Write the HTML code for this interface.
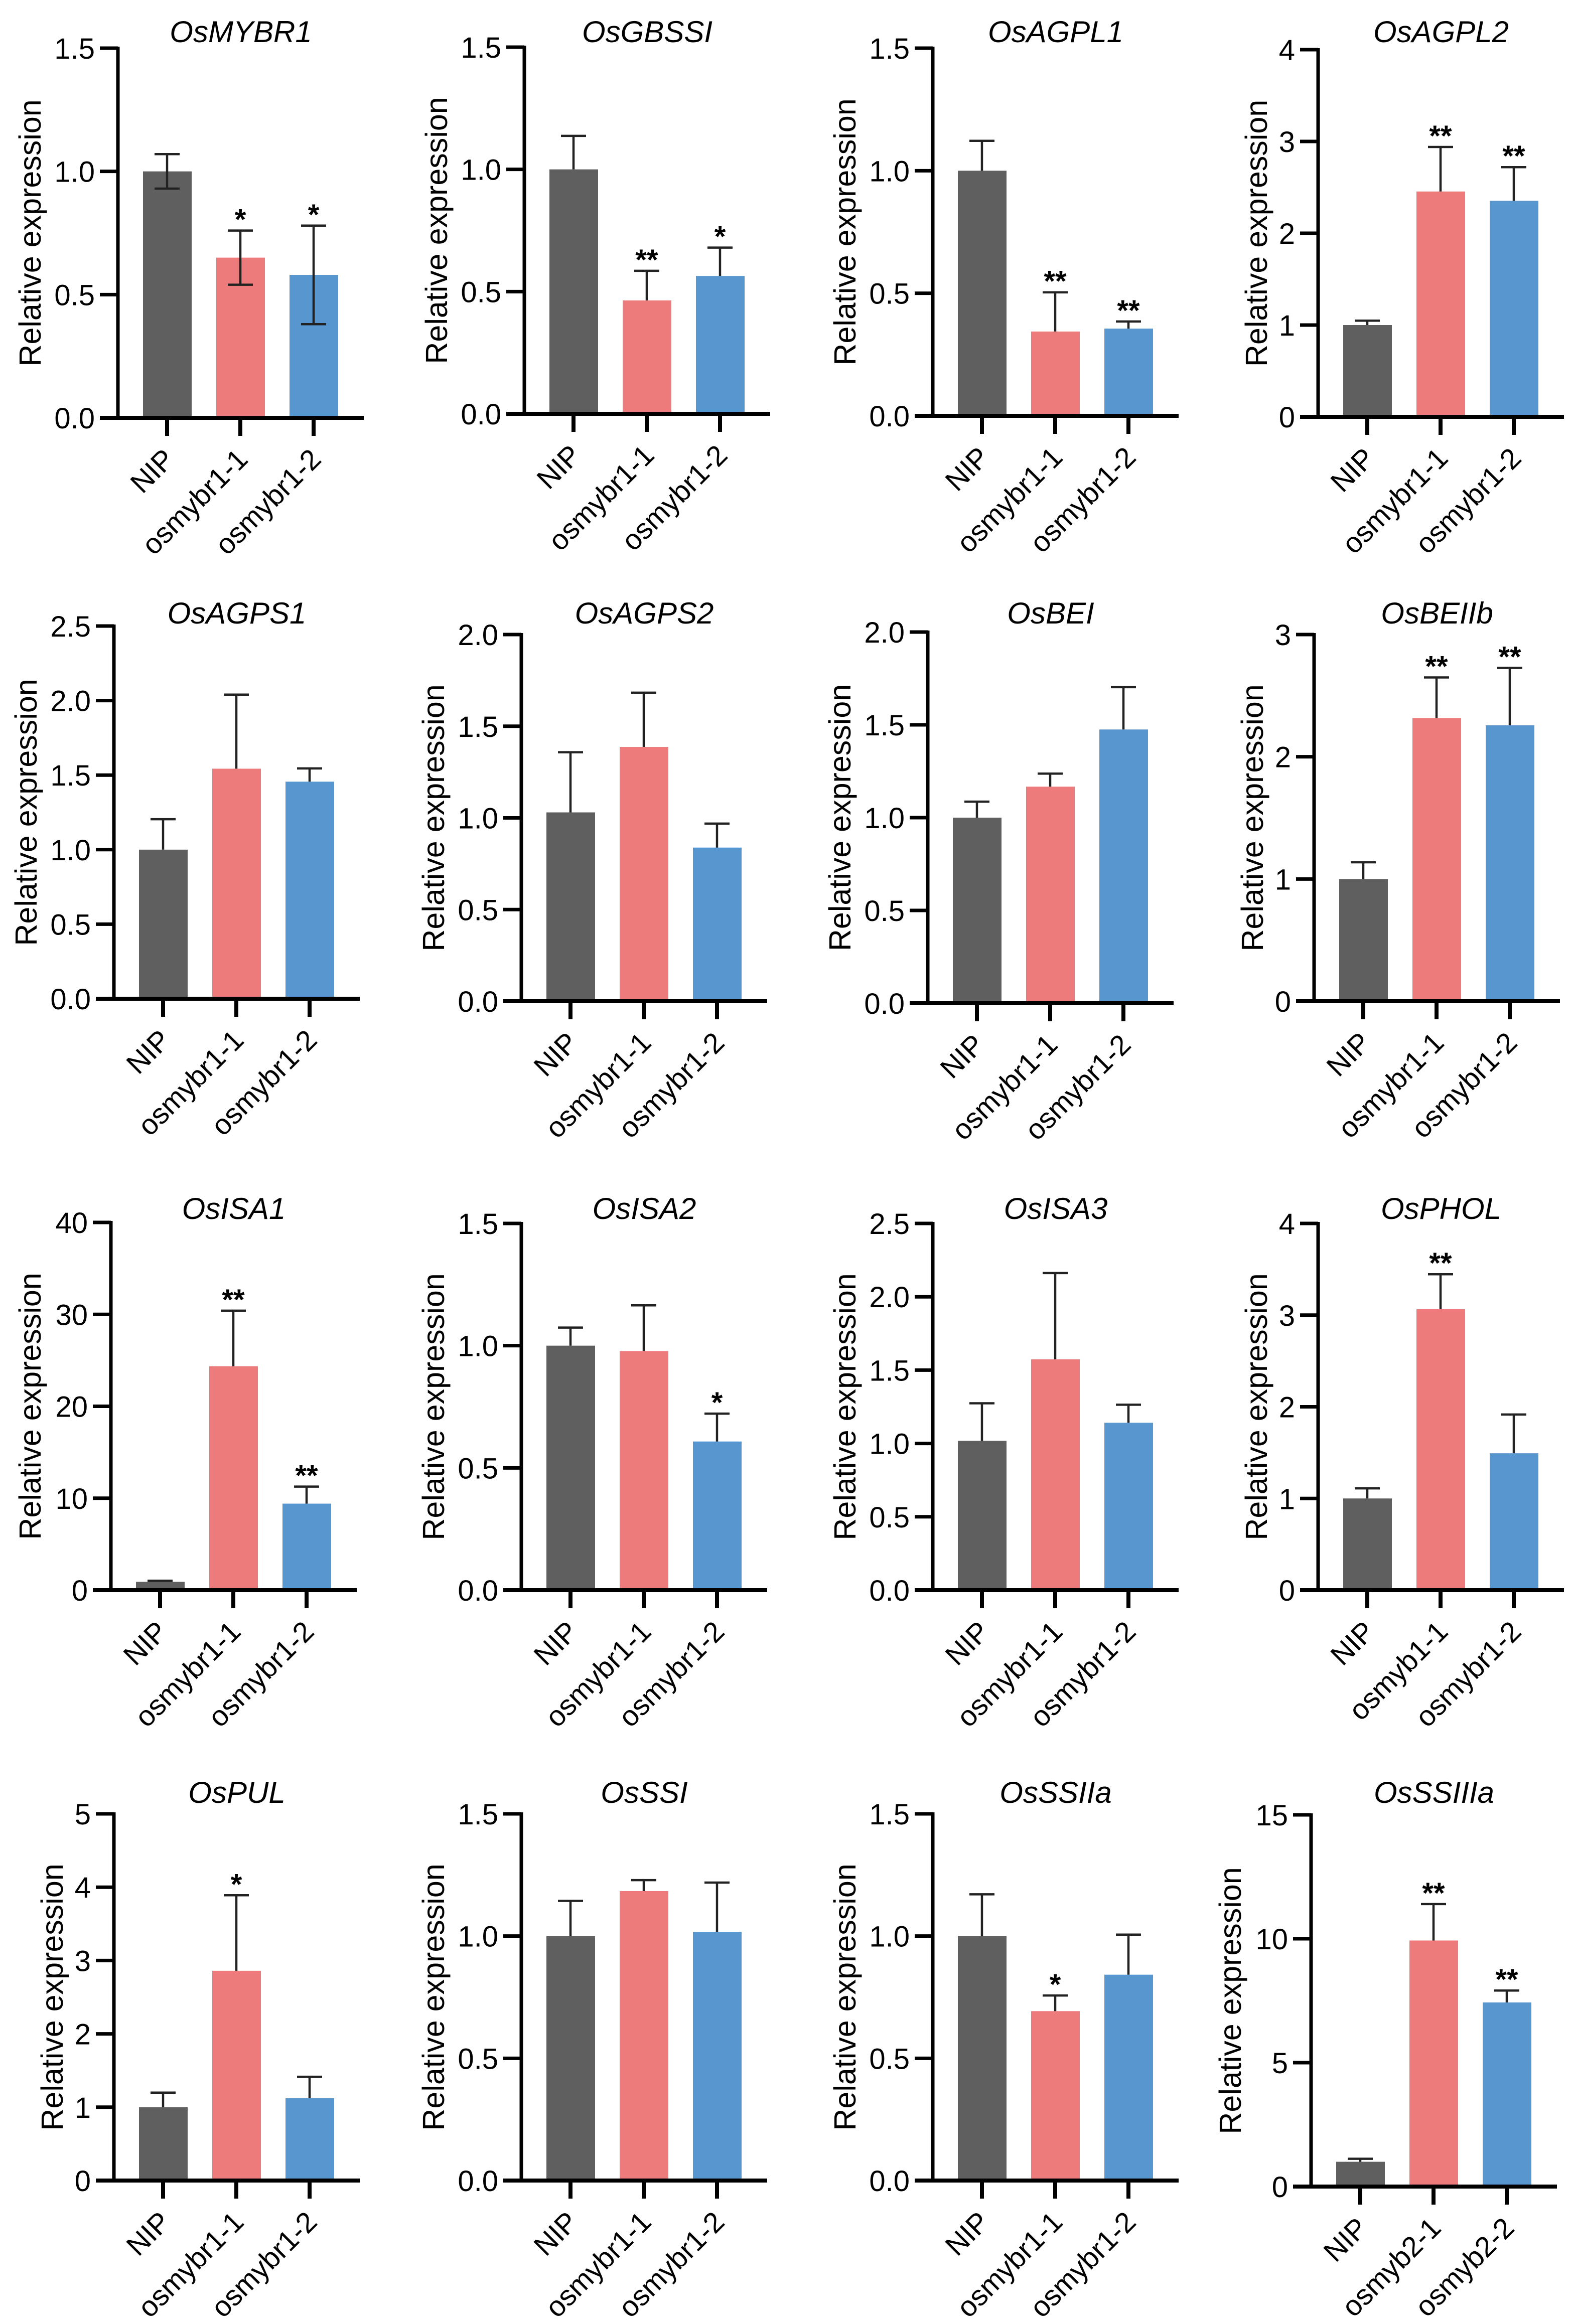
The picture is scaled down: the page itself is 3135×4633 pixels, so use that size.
<!DOCTYPE html>
<html><head><meta charset="utf-8">
<style>
html,body{margin:0;padding:0;background:#fff;}
svg{display:block;}
text{font-family:"Liberation Sans",Arial,sans-serif;fill:#000;}
</style></head>
<body>
<svg id="fig" width="3135" height="4633" viewBox="0 0 3135 4633" xmlns="http://www.w3.org/2000/svg"></svg>
<script>
// ---- data ----
const genes = ["OsMYBR1","OsGBSSI","OsAGPL1","OsAGPL2","OsAGPS1","OsAGPS2","OsBEI","OsBEIIb","OsISA1","OsISA2","OsISA3","OsPHOL","OsPUL","OsSSI","OsSSIIa","OsSSIIIa"];
const categoriesDefault = ["NIP","osmybr1-1","osmybr1-2"];
const categoriesPHOL = ["NIP","osmyb1-1","osmybr1-2"];
const categoriesSSIIIa = ["NIP","osmyb2-1","osmyb2-2"];
const meanValues = [
  [1.0,0.65,0.58],[1.0,0.464,0.564],[1.0,0.344,0.356],[1.0,2.455,2.354],
  [1.0,1.543,1.456],[1.03,1.387,0.838],[1.0,1.167,1.475],[1.0,2.317,2.258],
  [0.9,24.36,9.41],[1.0,0.978,0.608],[1.018,1.574,1.141],[1.0,3.065,1.493],
  [1.0,2.86,1.122],[1.0,1.184,1.017],[1.0,0.693,0.842],[1.0,9.93,7.43]
];
const errorValues = [
  [0.07,0.11,0.20],[0.137,0.121,0.116],[0.122,0.16,0.029],[0.048,0.485,0.366],
  [0.204,0.497,0.089],[0.328,0.296,0.131],[0.086,0.07,0.228],[0.137,0.332,0.469],
  [0.12,6.04,1.85],[0.074,0.187,0.114],[0.256,0.588,0.123],[0.11,0.381,0.423],
  [0.199,1.03,0.293],[0.144,0.045,0.202],[0.171,0.064,0.164],[0.12,1.47,0.48]
];
const significance = [
  ["","*","*"],["","**","*"],["","**","**"],["","**","**"],
  ["","",""],["","",""],["","",""],["","**","**"],
  ["","**","**"],["","","*"],["","",""],["","**",""],
  ["","*",""],["","",""],["","*",""],["","**","**"]
];
const yMax = [1.5,1.5,1.5,4, 2.5,2,2,3, 40,1.5,2.5,4, 5,1.5,1.5,15];
const tickStep = [0.5,0.5,0.5,1, 0.5,0.5,0.5,1, 10,0.5,0.5,1, 1,0.5,0.5,5];
const tickDecimals = [1,1,1,0, 1,1,1,0, 0,1,1,0, 0,1,1,0];
const lowerCaps = [true,false,false,false, false,false,false,false, false,false,false,false, false,false,false,false];

// ---- layout ----
const axisXs = [[235,1045,1859,2627],[227,1039,1849,2619],[221,1039,1859,2627],[227,1039,1859,2613]];
const topYs = [[96,94,96,99],[1248,1265,1260,1265],[2437,2439,2439,2439],[3616,3616,3616,3618]];
const zeroYs = [[833,825,829,831],[1991,1996,2000,1996],[3170,3170,3170,3170],[4347,4347,4347,4359]];
const titleYs = [84,1243,2430,3594];
const colors = ["#5f5f5f","#ee7b7b","#5896cf"];
const NS = "http://www.w3.org/2000/svg";
const svg = document.getElementById("fig");

function mk(tag, attrs, parent){
  const e = document.createElementNS(NS, tag);
  for (const k in attrs) e.setAttribute(k, attrs[k]);
  parent.appendChild(e);
  return e;
}

genes.forEach((gene, i) => {
  const r = Math.floor(i/4), c = i%4;
  const ax = axisXs[r][c], top = topYs[r][c], zero = zeroYs[r][c];
  const yScale = v => zero - (v / yMax[i]) * (zero - top);
  const xCenter = k => ax + 98 + k*146;
  const cats = gene==="OsPHOL" ? categoriesPHOL : (gene==="OsSSIIIa" ? categoriesSSIIIa : categoriesDefault);

  const g = mk("g", {}, svg);
  
  

  const t = mk("text", {x: ax+245, y: titleYs[r], "text-anchor":"middle", "font-size":60, "font-style":"italic"}, g);
  t.textContent = gene;
  
  

  meanValues[i].forEach((v, k) => {
    const cx = xCenter(k), y = yScale(v);
    const b = mk("rect", {x: cx-48, y: y, width: 97, height: zero-y, fill: colors[k]}, g);
    
    
  });

  meanValues[i].forEach((v, k) => {
    const cx = xCenter(k), e = errorValues[i][k];
    const yt = yScale(v+e);
    const yb = lowerCaps[i] ? yScale(v-e) : yScale(v);
    const eg = mk("g", {stroke:"#222", "stroke-width":4.5, fill:"none"}, g);
    
    
    mk("line", {x1:cx, y1:yt, x2:cx, y2:yb}, eg);
    mk("line", {x1:cx-25, y1:yt, x2:cx+25, y2:yt}, eg);
    if (lowerCaps[i]) mk("line", {x1:cx-25, y1:yb, x2:cx+25, y2:yb}, eg);
    const s = significance[i][k];
    if (s) {
      const st = mk("text", {x:cx, y:yt-2, "text-anchor":"middle", "font-size":58, "font-weight":"bold"}, g);
      st.textContent = s;
      
      
    }
  });

  const ya = mk("line", {x1:ax, y1:top-3, x2:ax, y2:zero+4, stroke:"#000", "stroke-width":7}, g);
  
  
  const nT = Math.round(yMax[i]/tickStep[i]);
  let maxLen = 0;
  for (let j=0;j<=nT;j++){
    const v = j*tickStep[i], y = yScale(v);
    mk("line", {x1:ax-36, y1:y, x2:ax, y2:y, stroke:"#000", "stroke-width":7}, g);
    const lbl = v.toFixed(tickDecimals[i]);
    maxLen = Math.max(maxLen, lbl.length);
    const tl = mk("text", {x: ax-46, y: y+21, "text-anchor":"end", "font-size":58}, g);
    tl.textContent = lbl;
    
    
  }
  const off = maxLen>=3 ? 172 : (maxLen===2 ? 158 : 120);
  const cy = (top+zero)/2;
  const yt = mk("text", {transform:`translate(${ax-off+18},${cy}) rotate(-90)`, "text-anchor":"middle", "font-size":61}, g);
  yt.textContent = "Relative expression";
  
  

  const xa = mk("line", {x1:ax-36, y1:zero, x2:ax+490, y2:zero, stroke:"#000", "stroke-width":8}, g);
  
  
  cats.forEach((name, k) => {
    const cx = xCenter(k);
    mk("line", {x1:cx, y1:zero, x2:cx, y2:zero+36, stroke:"#000", "stroke-width":8}, g);
    const xl = mk("text", {transform:`translate(${cx+18},${zero+86}) rotate(-45)`, "text-anchor":"end", "font-size":57}, g);
    xl.textContent = name;
    
    
  });
});
</script>
</body></html>
